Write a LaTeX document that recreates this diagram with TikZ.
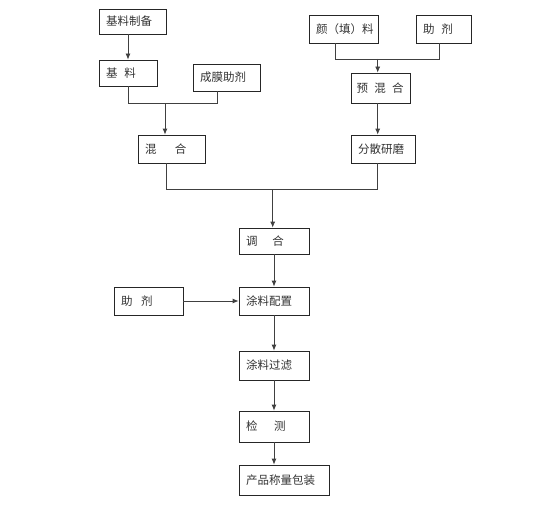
\documentclass[tikz,border=0pt]{standalone}
\usepackage{fontspec}
\newfontfamily\cjk{Noto Sans CJK SC}
\usetikzlibrary{arrows.meta}
\begin{document}
\begin{tikzpicture}[x=1pt,y=-1pt,
  box/.style={draw=black!85, line width=0.8pt, fill=white, font=\cjk\fontsize{11.5}{13}\selectfont, text=black!80,
    inner xsep=7pt, inner ysep=0pt, align=left, anchor=center},
  conn/.style={draw=black!75, line width=0.8pt},
  arr/.style={conn, -{Latex[length=6pt,width=5pt]}}]
\useasboundingbox (0,0) rectangle (553,524);
\newcommand{\bx}[7]{\node[box, minimum width=#4pt, minimum height=#5pt, text width=#6pt] (#1) at (#2,#3) {#7};}
\bx{prep}{132.5}{21.5}{67}{25}{53}{基料制备}
\bx{base}{128}{73}{58}{26}{44}{基\hspace{0.6em}料}
\bx{film}{226.5}{77.5}{67}{27}{53}{成膜助剂}
\bx{pig}{343.5}{29}{69}{28}{55}{颜（填）料}
\bx{addA}{443.5}{29}{55}{28}{41}{助\hspace{0.6em}剂}
\node[box, inner xsep=5.5pt, minimum width=59pt, minimum height=30pt, text width=48pt] (premix) at (380.5,88) {预\hspace{0.55em}混\hspace{0.55em}合};
\bx{mix}{171.5}{149}{67}{28}{53}{混\hspace{1.6em}合}
\bx{grind}{383}{149}{64}{28}{50}{分散研磨}
\bx{tune}{274}{241}{70}{26}{56}{调\hspace{1.3em}合}
\bx{config}{274}{301}{70}{28}{56}{涂料配置}
\bx{addB}{148.5}{301}{69}{28}{55}{助\hspace{0.75em}剂}
\bx{filter}{274}{365.5}{70}{29}{56}{涂料过滤}
\bx{test}{274}{426.5}{70}{31}{56}{检\hspace{1.45em}测}
\bx{pack}{284}{480}{90}{30}{76}{产品称量包装}
% joins
\coordinate (j1) at (165,103);
\coordinate (f1) at (217,103);
\coordinate (j2) at (377.7,59);
\coordinate (p1) at (335.7,59);
\coordinate (a1) at (439,59);
\coordinate (m1) at (166.7,189);
\coordinate (g1) at (377.7,189);
\coordinate (j3) at (272.7,189);
\draw[arr] (base |- prep.south) -- (base.north);
\draw[conn] (base.south) |- (f1) -- (f1 |- film.south);
\draw[arr] (j1) -- (j1 |- mix.north);
\draw[conn] (p1 |- pig.south) -- (p1) -- (a1) -- (a1 |- addA.south);
\draw[arr] (j2) -- (j2 |- premix.north);
\draw[arr] (j2 |- premix.south) -- (j2 |- grind.north);
\draw[conn] (m1 |- mix.south) -- (m1) -- (g1) -- (g1 |- grind.south);
\draw[arr] (j3) -- (j3 |- tune.north);
\draw[arr] (tune.south) -- (config.north);
\draw[arr] (addB.east) -- (config.west);
\draw[arr] (config.south) -- (filter.north);
\draw[arr] (filter.south) -- (test.north);
\draw[arr] (test.south) -- (test.south |- pack.north);
\end{tikzpicture}
\end{document}
